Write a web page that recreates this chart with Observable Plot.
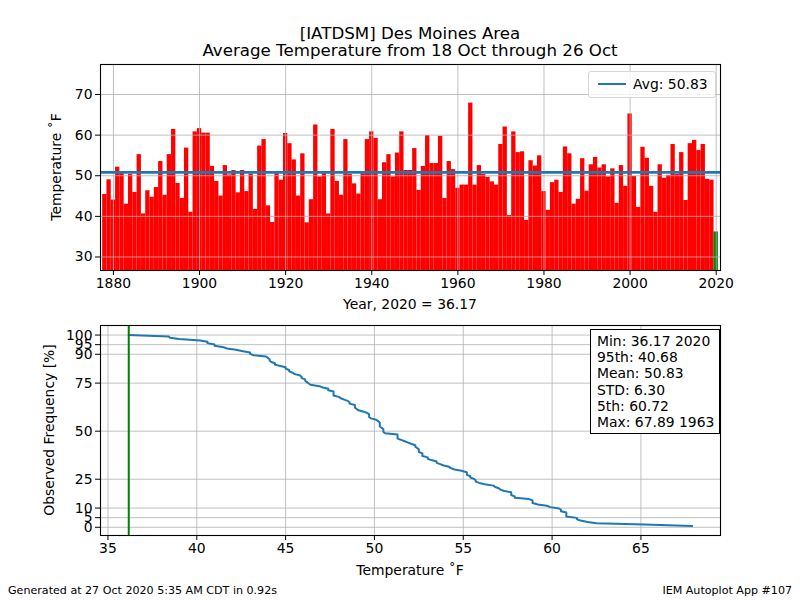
<!DOCTYPE html>
<html>
<head>
<meta charset="utf-8">
<script src="https://cdn.jsdelivr.net/npm/d3@7"></script>
<script src="https://cdn.jsdelivr.net/npm/@observablehq/plot@0.6"></script>
<style>
  body { margin: 0; background: #fff; }
  #fig { position: relative; width: 800px; height: 600px; font-family: "DejaVu Sans", sans-serif; color: #000; overflow: hidden; background: #fff; }
  #fig svg { position: absolute; left: 0; }
  .t { position: absolute; white-space: nowrap; line-height: 1; }
</style>
</head>
<body>
<div id="fig"></div>
<script>
// Average temperature, 18 Oct through 26 Oct, Des Moines area (IATDSM)
const years = d3.range(1878, 2021);
const temps = [
  45.4, 49.0, 44.0, 52.1, 50.6, 43.0, 50.3, 45.9, 55.2, 40.6, // 1878-1887
  46.3, 44.7, 47.1, 53.5, 45.2, 55.2, 61.4, 48.1, 44.4, 56.8, // 1888-1897
  41.0, 60.8, 61.6, 60.5, 60.5, 52.3, 48.6, 45.0, 52.5, 50.2, // 1898-1907
  51.3, 45.8, 51.3, 46.1, 50.4, 41.7, 57.3, 58.9, 42.6, 38.5, // 1908-1917
  50.5, 48.9, 60.4, 57.9, 53.9, 45.0, 55.4, 38.4, 44.1, 62.5, // 1918-1927
  49.7, 50.5, 40.6, 61.4, 48.6, 45.2, 58.9, 50.3, 48.0, 45.5, // 1928-1937
  50.5, 58.9, 60.8, 59.2, 44.1, 53.2, 55.2, 49.7, 55.6, 60.8, // 1938-1947
  51.3, 51.3, 56.7, 46.4, 52.3, 59.9, 53.0, 53.0, 59.7, 44.4, // 1948-1957
  53.5, 51.5, 46.9, 47.7, 47.7, 67.89, 47.7, 52.5, 50.3, 49.6, // 1958-1967
  48.5, 47.7, 57.7, 62.0, 40.2, 60.8, 55.7, 55.9, 39.0, 53.7, // 1968-1977
  52.4, 54.9, 46.1, 41.5, 48.3, 48.9, 45.9, 57.1, 55.4, 43.0, // 1978-1987
  44.2, 54.2, 46.2, 52.7, 54.5, 51.9, 52.7, 49.7, 51.7, 43.2, // 1988-1997
  52.5, 47.4, 65.2, 49.8, 42.2, 57.0, 54.3, 47.4, 41.0, 52.7, // 1998-2007
  49.4, 50.1, 57.7, 50.3, 55.7, 43.9, 57.9, 58.7, 56.2, 57.7, // 2008-2017
  49.1, 48.9, 36.17                                           // 2018-2020
];
const currentYear = 2020;
const avgTemp = 50.83;

const yearTicks = [1880, 1900, 1920, 1940, 1960, 1980, 2000, 2020];
const tempTicks = [30, 40, 50, 60, 70];
const distTicks = [35, 40, 45, 50, 55, 60, 65];
const freqTicks = [0, 5, 10, 25, 50, 75, 90, 95, 100];

const statLabels = ["Min", "95th", "Mean", "STD", "5th", "Max"];
const statValues = ["36.17 2020", "40.68", "50.83", "6.30", "60.72", "67.89 1963"];

const titleLines = ["[IATDSM] Des Moines Area", "Average Temperature from 18 Oct through 26 Oct"];
const footerLeft = "Generated at 27 Oct 2020 5:35 AM CDT in 0.92s";
const footerRight = "IEM Autoplot App #107";

const RED = "#ff0000", GREEN = "#008000", BLUE = "#1f77b4", GRID = "#b0b0b0";
const FONT = "13.9px";

const rows = years.map((year, i) => ({year, temp: temps[i]}));
const current = rows.find(d => d.year === currentYear);

const fig = document.getElementById("fig");

function label(text, x, y, {size = FONT, anchor = "middle", rotate = false} = {}) {
  const el = document.createElement("div");
  el.className = "t";
  el.textContent = text;
  el.style.fontSize = size;
  el.style.left = x + "px";
  el.style.top = y + "px";
  const tx = anchor === "middle" ? "-50%" : anchor === "end" ? "-100%" : "0";
  el.style.transform = `translate(${tx}, -50%)` + (rotate ? " rotate(-90deg)" : "");
  fig.appendChild(el);
  return el;
}

const common = {
  width: 800,
  marginLeft: 100,
  marginRight: 80,
  style: {fontFamily: "DejaVu Sans, sans-serif", fontSize: FONT, color: "#000", background: "transparent", overflow: "visible"}
};

// Top panel: yearly bars with the long-term average
const yearChart = Plot.plot({
  ...common,
  height: 300,
  marginTop: 64,
  marginBottom: 30,
  x: {domain: [1877, 2021], label: null},
  y: {domain: [26.67, 77.39], label: null},
  marks: [
    Plot.rectY(rows, {
      x1: d => d.year - 0.5, x2: d => d.year + 0.5, y1: 0, y2: "temp",
      fill: d => d.year === currentYear ? GREEN : RED, clip: true
    }),
    Plot.ruleX(yearTicks, {stroke: GRID, strokeWidth: 0.8}),
    Plot.ruleY(tempTicks, {stroke: GRID, strokeWidth: 0.8}),
    Plot.ruleY([avgTemp], {stroke: BLUE, strokeWidth: 2.8}),
    Plot.frame({stroke: "#000", strokeWidth: 1.1}),
    Plot.axisX(yearTicks, {tickSize: 5, tickPadding: 3, tickFormat: d => String(d), label: null}),
    Plot.axisY(tempTicks, {anchor: "left", tickSize: 5, tickPadding: 3, label: null})
  ]
});
yearChart.style.top = "0px";
fig.appendChild(yearChart);

// Bottom panel: exceedance frequency of the sorted yearly values
const sorted = d3.sort(temps);
const n = sorted.length;
const dist = sorted.map((t, i) => ({t, pct: 100 * (n - i) / n}));
const minTemp = sorted[0];

const distChart = Plot.plot({
  ...common,
  height: 260,
  marginTop: 25,
  marginBottom: 25,
  x: {domain: [34.58, 69.48], label: null},
  y: {domain: [-4.27, 104.97], label: null},
  marks: [
    Plot.ruleX(distTicks, {stroke: GRID, strokeWidth: 0.8}),
    Plot.ruleY(freqTicks, {stroke: GRID, strokeWidth: 0.8}),
    Plot.line(dist, {x: "t", y: "pct", stroke: BLUE, strokeWidth: 2}),
    Plot.ruleX([minTemp], {stroke: GREEN, strokeWidth: 2}),
    Plot.frame({stroke: "#000", strokeWidth: 1.1}),
    Plot.axisX(distTicks, {tickSize: 5, tickPadding: 3, label: null}),
    Plot.axisY(freqTicks, {anchor: "left", tickSize: 5, tickPadding: 3, label: null})
  ]
});
distChart.style.top = "300px";
fig.appendChild(distChart);

// Titles and axis labels
label(titleLines[0], 410, 34, {size: "16.67px"});
label(titleLines[1], 410, 51, {size: "16.67px"});
label(`Year, ${currentYear} = ${current.temp.toFixed(2)}`, 410, 305);
label("Temperature \u02daF", 57, 167, {rotate: true});
label("Temperature \u02daF", 410, 571);
label("Observed Frequency [%]", 50, 430, {rotate: true});
label(footerLeft, 8, 591, {size: "11.1px", anchor: "start"});
label(footerRight, 792, 591, {size: "11.1px", anchor: "end"});

// Legend for the average line
const legend = document.createElement("div");
legend.style.cssText = "position:absolute;left:588px;top:71px;width:126px;height:25px;border:1px solid #d6d6d6;border-radius:3px;background:rgba(255,255,255,0.8);";
const swatch = document.createElement("div");
swatch.style.cssText = `position:absolute;left:9px;top:11px;width:28px;height:0;border-top:2.5px solid ${BLUE};`;
legend.appendChild(swatch);
const legText = document.createElement("div");
legText.className = "t";
legText.style.cssText += `font-size:${FONT};left:44px;top:13px;transform:translate(0,-50%);`;
legText.textContent = `Avg: ${avgTemp.toFixed(2)}`;
legend.appendChild(legText);
fig.appendChild(legend);

// Summary statistics box
const stats = document.createElement("div");
stats.style.cssText = `position:absolute;left:590px;top:329px;width:122px;padding:3px 0 3px 6px;border:1px solid #000;background:#fff;font-size:${FONT};line-height:16.2px;white-space:nowrap;`;
statLabels.forEach((name, i) => {
  const line = document.createElement("div");
  line.textContent = `${name}: ${statValues[i]}`;
  stats.appendChild(line);
});
fig.appendChild(stats);
</script>
</body>
</html>
